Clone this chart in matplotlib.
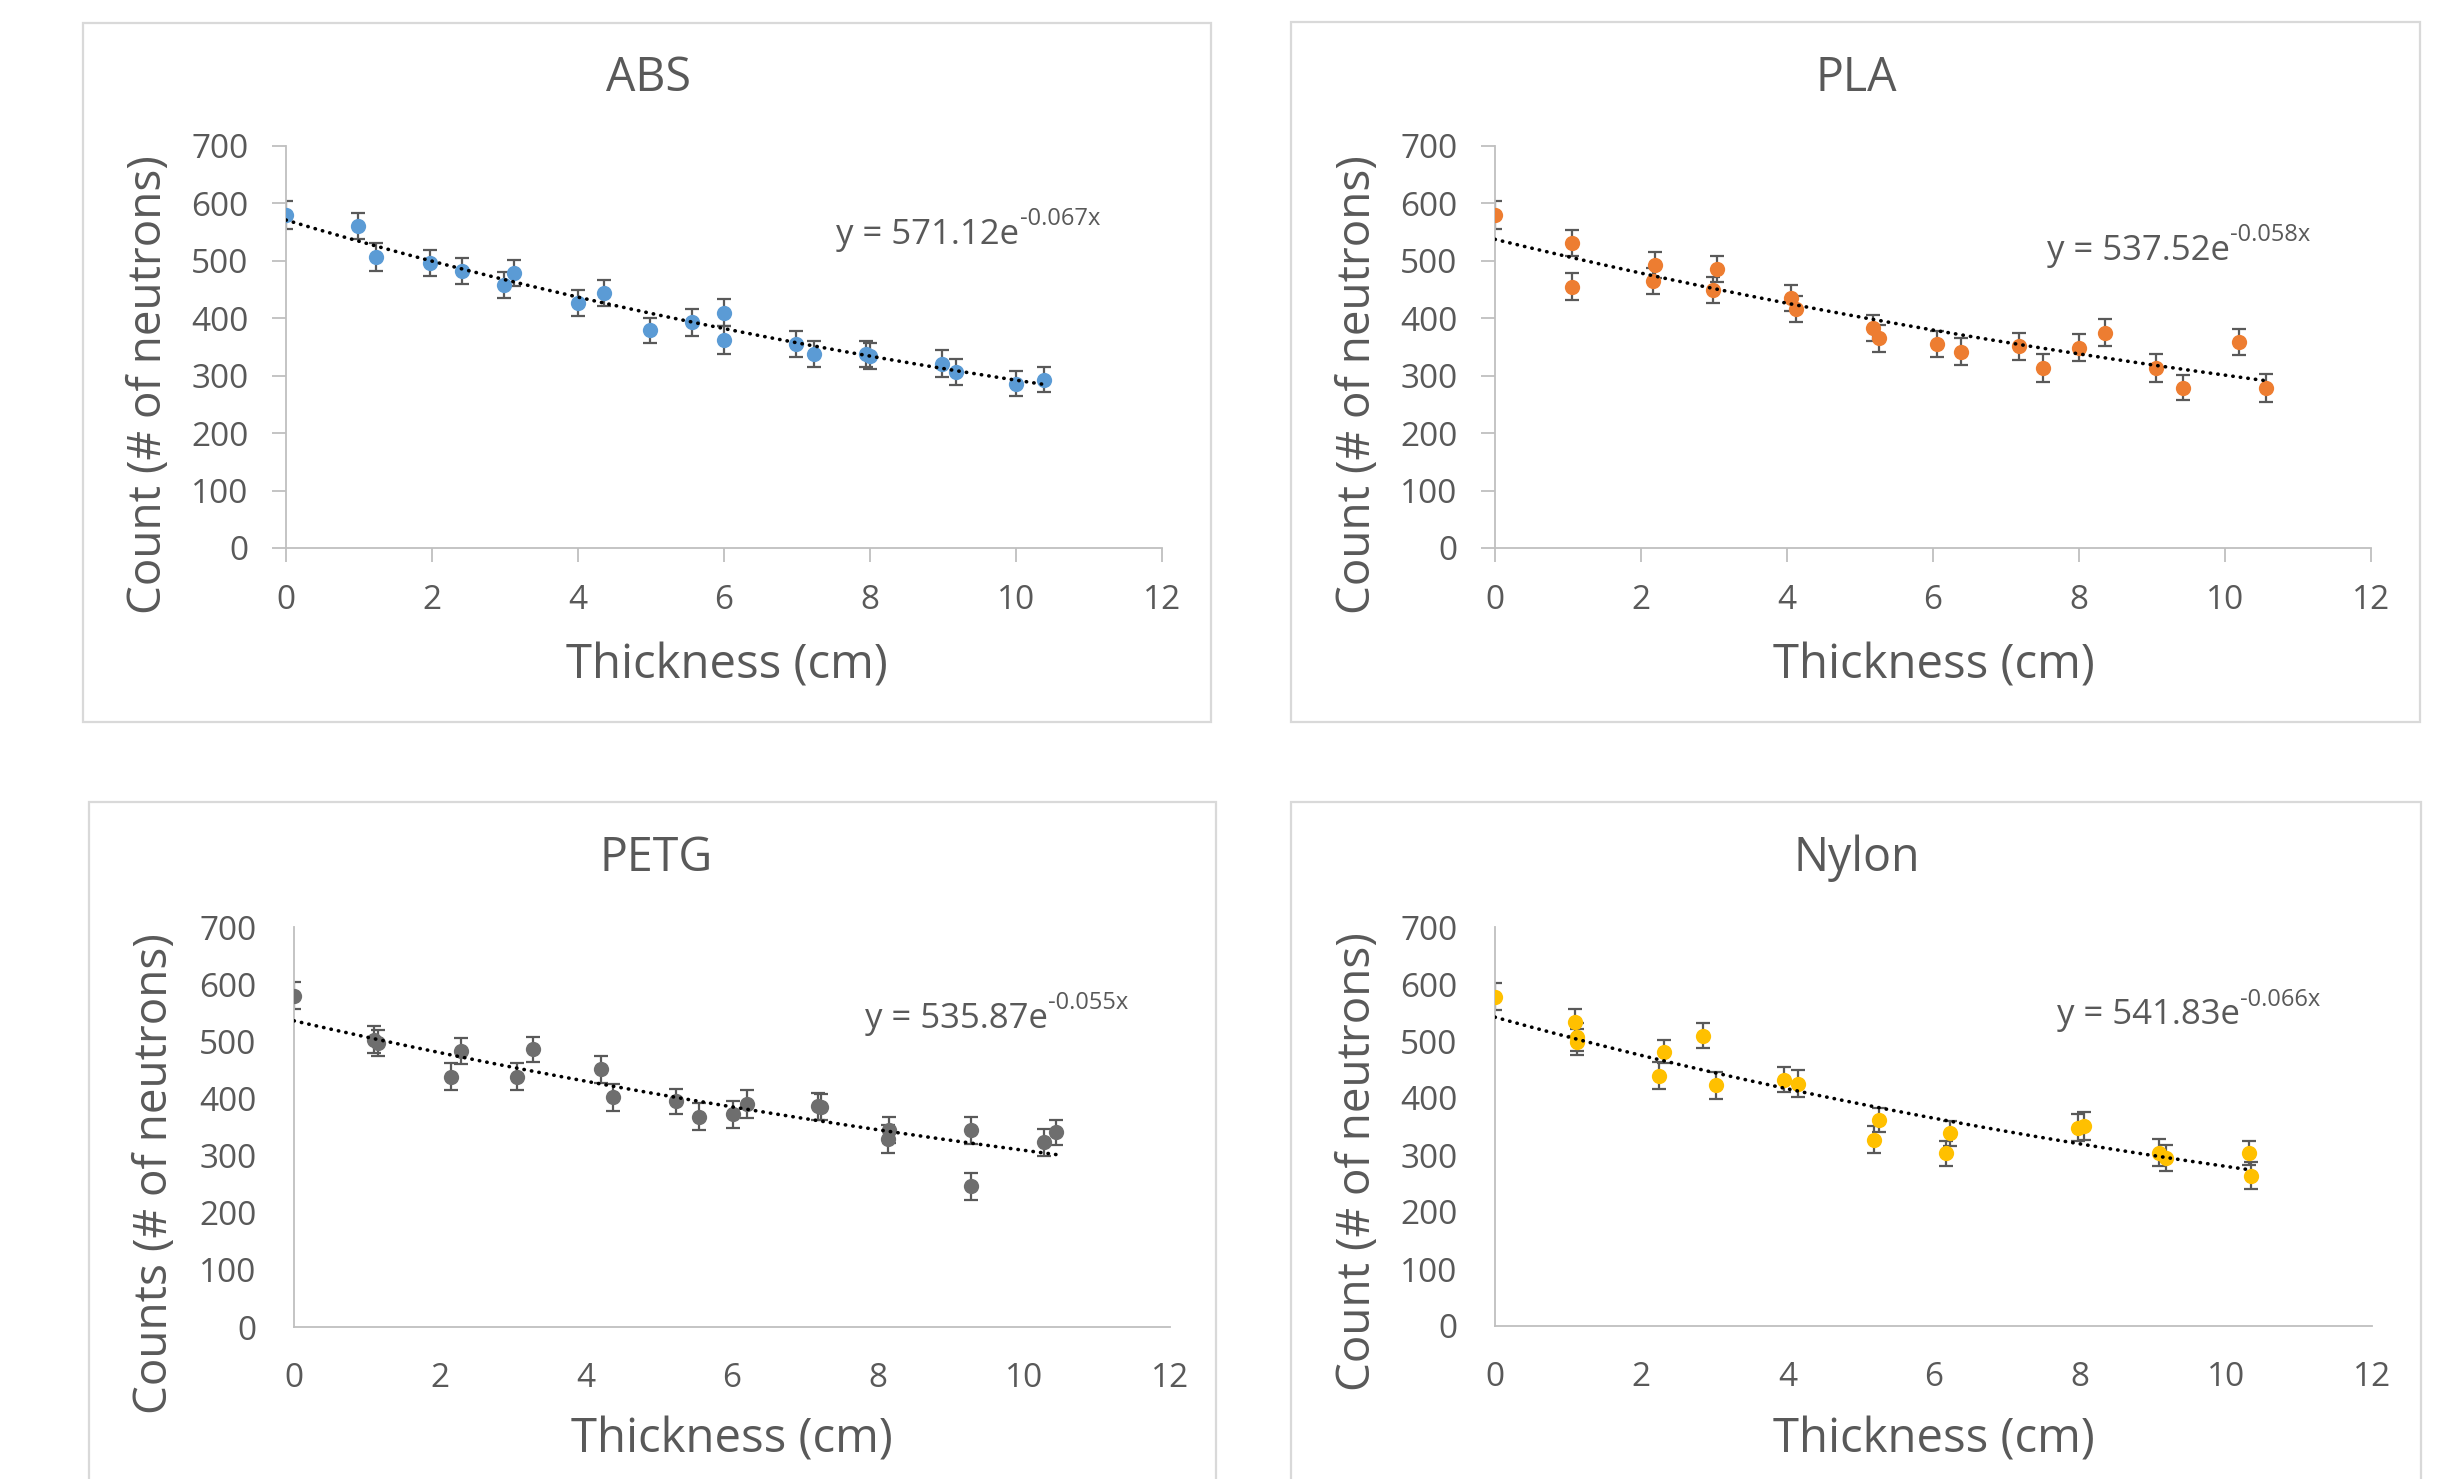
import numpy as np
import matplotlib
matplotlib.use("Agg")
import matplotlib.pyplot as plt
from matplotlib.patches import Rectangle

plt.rcParams['font.family'] = ['Open Sans', 'DejaVu Sans']

# ---------------- data ----------------
ABS_X = [0, 0.98, 1.23, 1.97, 2.41, 2.98, 3.12, 4.0, 4.36, 4.98, 5.56, 6.0, 6.0,
         6.98, 7.23, 7.95, 8.0, 8.99, 9.18, 10.0, 10.39]
ABS_Y = [580, 561, 507, 496, 482, 458, 479, 427, 444, 379, 393, 410, 362,
         355, 338, 338, 334, 321, 306, 286, 293]
ABS_ERR = [24, 23, 24, 23, 23, 23, 23, 23, 23, 22, 23, 23, 24,
           23, 23, 23, 23, 23, 23, 22, 22]

PLA_X = [0, 1.06, 1.06, 2.17, 2.19, 2.98, 3.04, 4.05, 4.13, 5.18, 5.26, 6.05, 6.39,
         7.18, 7.51, 8.0, 8.35, 9.06, 9.43, 10.19, 10.56]
PLA_Y = [580, 531, 455, 465, 493, 449, 486, 435, 416, 383, 365, 355, 342,
         351, 313, 349, 375, 313, 279, 359, 279]
PLA_ERR = [24, 23, 24, 23, 23, 23, 23, 23, 23, 22, 23, 23, 23,
           23, 24, 23, 24, 24, 22, 23, 24]

PETG_X = [0, 1.1, 1.15, 2.15, 2.29, 3.05, 3.28, 4.2, 4.37, 5.23, 5.55, 6.02, 6.21,
          7.18, 7.22, 8.14, 8.15, 9.28, 9.28, 10.27, 10.44]
PETG_Y = [580, 503, 497, 438, 483, 438, 486, 451, 402, 395, 368, 372, 390,
          386, 385, 329, 345, 344, 246, 323, 341]
PETG_ERR = [23, 23, 23, 24, 23, 24, 22, 24, 24, 22, 24, 24, 25,
            23, 23, 24, 23, 24, 23, 23, 22]

NYLON_X = [0, 1.10, 1.12, 1.12, 2.25, 2.31, 2.85, 3.02, 3.95, 4.14, 5.19, 5.26,
           6.17, 6.23, 7.98, 8.06, 9.08, 9.18, 10.32, 10.34]
NYLON_Y = [578, 533, 507, 498, 439, 481, 509, 422, 432, 425, 327, 362,
           303, 338, 348, 351, 304, 295, 303, 264]
NYLON_ERR = [24, 24, 24, 23, 24, 20, 22, 24, 22, 24, 24, 21,
             22, 22, 24, 24, 24, 23, 21, 24]

# exponential trendline parameters (y = A * exp(B * x))
ABS_FIT = (571.12, -0.067)
PLA_FIT = (537.52, -0.058)
PETG_FIT = (535.87, -0.055)
NYLON_FIT = (541.83, -0.066)

TITLES = ["ABS", "PLA", "PETG", "Nylon"]
YLABELS = ["Count (# of neutrons)", "Count (# of neutrons)",
           "Counts (# of neutrons)", "Count (# of neutrons)"]
XLABEL = "Thickness (cm)"
X_TICKS = [0, 2, 4, 6, 8, 10, 12]
Y_TICKS = [0, 100, 200, 300, 400, 500, 600, 700]

# ---------------- figure ----------------
W, H = 2462, 1479
DPI = 100
fig = plt.figure(figsize=(W / DPI, H / DPI), dpi=DPI)
fig.patch.set_facecolor('white')

TXT = '#595959'
AXC = '#BFBFBF'
BOX = '#D9D9D9'

def fx(px):
    return px / W

def fy(py):
    return 1 - py / H

panels = [
    dict(x=ABS_X, y=ABS_Y, e=ABS_ERR, fit=ABS_FIT, color='#5B9BD5',
         plot=(286, 1162, 146, 548), box=(83, 23, 1211, 722), ticks=True,
         title=(648, 78), ylab=(149, 385), xlab=(727, 666), eq=(7.54, 530)),
    dict(x=PLA_X, y=PLA_Y, e=PLA_ERR, fit=PLA_FIT, color='#ED7D31',
         plot=(1495, 2371, 146, 548), box=(1291, 22, 2420, 722), ticks=True,
         title=(1856, 78), ylab=(1358, 385), xlab=(1934, 666), eq=(7.56, 502)),
    dict(x=PETG_X, y=PETG_Y, e=PETG_ERR, fit=PETG_FIT, color='#6E6E6E',
         plot=(294, 1170, 927, 1327), box=(89, 802, 1216, 1600), ticks=False,
         title=(656, 858), ylab=(155, 1174), xlab=(732, 1440), eq=(7.82, 524)),
    dict(x=NYLON_X, y=NYLON_Y, e=NYLON_ERR, fit=NYLON_FIT, color='#FFC000',
         plot=(1495, 2372, 927, 1326), box=(1291, 802, 2421, 1600), ticks=False,
         title=(1857, 858), ylab=(1358, 1162), xlab=(1934, 1440), eq=(7.69, 530)),
]

for i, p in enumerate(panels):
    # chart-area border
    bx0, by0, bx1, by1 = p['box']
    fig.patches.append(Rectangle((fx(bx0), fy(by1)), fx(bx1 - bx0), (by1 - by0) / H,
                                 transform=fig.transFigure, fill=False,
                                 edgecolor=BOX, linewidth=1.6, zorder=0))

    x0, x1, yt, yb = p['plot']
    ax = fig.add_axes([fx(x0), fy(yb), fx(x1 - x0), (yb - yt) / H])
    ax.set_xlim(0, 12)
    ax.set_ylim(0, 700)
    ax.set_xticks(X_TICKS)
    ax.set_yticks(Y_TICKS)
    ax.patch.set_alpha(0)
    for s in ['top', 'right']:
        ax.spines[s].set_visible(False)
    for s in ['left', 'bottom']:
        ax.spines[s].set_color(AXC)
        ax.spines[s].set_linewidth(1.3)
    if p['ticks']:
        ax.tick_params(axis='both', direction='out', length=10, width=1.3,
                       color=AXC, labelcolor=TXT, labelsize=24)
        ax.tick_params(axis='y', pad=17)
        ax.tick_params(axis='x', pad=16)
    else:
        ax.tick_params(axis='both', length=0, labelcolor=TXT, labelsize=24)
        ax.tick_params(axis='y', pad=27)
        ax.tick_params(axis='x', pad=25)

    # error bars + markers
    ax.errorbar(p['x'], p['y'], yerr=p['e'], fmt='none', ecolor='#595959',
                elinewidth=1.6, capsize=5, capthick=1.6, zorder=2)
    ax.plot(p['x'], p['y'], 'o', color=p['color'], markersize=11,
            markeredgewidth=0, zorder=3)

    # exponential trendline
    A, B = p['fit']
    xs = np.linspace(0, max(p['x']), 200)
    ax.plot(xs, A * np.exp(B * xs), color='black', linewidth=2.6,
            linestyle=(0, (0.1, 2.0)), dash_capstyle='round', zorder=4)

    # equation label
    ex, ey = p['eq']
    t1 = ax.text(ex, ey, f"y = {A:.2f}e", fontsize=25, color=TXT,
                 ha='left', va='baseline', zorder=5)
    ax.annotate(f"{B:.3f}x", xy=(1.0, 0.6), xycoords=t1, fontsize=17,
                color=TXT, ha='left', va='bottom', zorder=5)

    # titles and axis labels
    tx, ty = p['title']
    fig.text(fx(tx), fy(ty), TITLES[i], fontsize=33.5, color=TXT,
             ha='center', va='center')
    lx, ly = p['ylab']
    fig.text(fx(lx), fy(ly), YLABELS[i], fontsize=33, color=TXT,
             ha='center', va='center', rotation=90)
    xx, xy = p['xlab']
    fig.text(fx(xx), fy(xy), XLABEL, fontsize=34, color=TXT,
             ha='center', va='center')

fig.savefig('out.png', dpi=DPI, facecolor='white')
